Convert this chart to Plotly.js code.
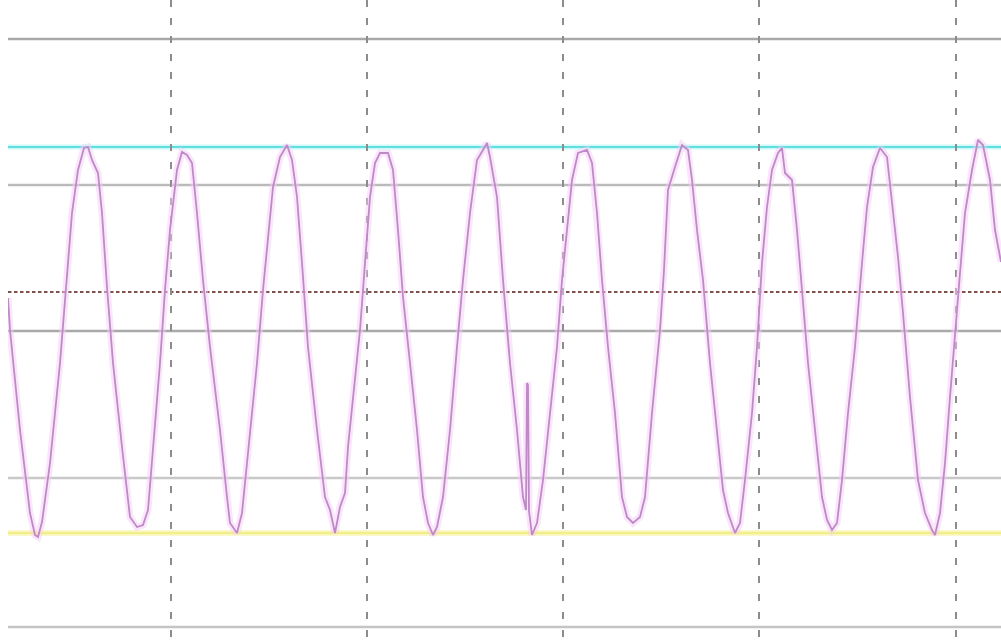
<!DOCTYPE html>
<html>
<head>
<meta charset="utf-8">
<script src="https://cdn.plot.ly/plotly-3.0.1.min.js"></script>
<style>
  html, body { margin: 0; padding: 0; background: #ffffff; }
  #chart { width: 1001px; height: 641px; }
</style>
</head>
<body>
<div id="chart"></div>
<script>
// Sample index (time) of the trace
const timeSamples = [
  8, 10, 20, 30, 35, 38, 42, 50, 60, 67, 72, 78, 84, 88, 92, 98, 102, 107, 113, 122,
  130, 137, 143, 148, 153, 160, 165, 170, 177, 182, 187, 192, 197, 203, 210, 220,
  227, 230, 237, 242, 247, 257, 263, 267, 273, 280, 287, 292, 297, 302, 308, 317,
  325, 330, 335, 340, 345, 348, 355, 360, 365, 370, 375, 380, 388, 393, 398, 403,
  410, 417, 423, 428, 433, 437, 443, 450, 457, 463, 470, 477, 483, 487, 490, 497,
  503, 510, 517, 523, 526, 527, 528, 529, 532, 537, 543, 550, 557, 562, 567, 572,
  578, 587, 592, 597, 602, 608, 615, 622, 627, 633, 640, 645, 652, 660, 664, 668,
  675, 682, 688, 692, 697, 703, 710, 717, 723, 728, 735, 740, 745, 752, 757, 762,
  767, 772, 778, 782, 785, 792, 797, 802, 808, 815, 822, 827, 832, 837, 842, 848,
  855, 862, 867, 873, 880, 887, 893, 898, 903, 910, 918, 925, 932, 935, 940, 945,
  950, 955, 960, 965, 972, 978, 983, 990, 995, 1001
];
// Signal level of the trace
const signalValues = [
  343, 311, 211, 128, 106, 104, 119, 178, 278, 371, 428, 471, 493, 494, 481, 468, 428, 354, 278, 194,
  124, 114, 116, 131, 194, 278, 351, 411, 471, 489, 486, 478, 428, 361, 294, 211,
  144, 118, 108, 128, 178, 278, 351, 394, 454, 484, 496, 481, 444, 378, 294, 211,
  144, 131, 108, 134, 148, 194, 261, 311, 378, 444, 478, 488, 488, 471, 411, 344,
  278, 211, 144, 118, 106, 114, 144, 211, 294, 361, 428, 481, 491, 498, 484, 444,
  361, 278, 211, 144, 131, 258, 256, 130, 106, 118, 161, 228, 294, 361, 411, 461,
  488, 491, 478, 428, 361, 294, 228, 144, 124, 118, 124, 144, 228, 311, 371, 451,
  474, 496, 491, 461, 411, 361, 278, 211, 151, 128, 108, 118, 161, 228, 294, 378,
  434, 471, 488, 493, 468, 461, 411, 351, 278, 211, 144, 121, 111, 118, 161, 228,
  294, 378, 434, 474, 493, 484, 428, 384, 328, 244, 161, 128, 111, 106, 128, 178,
  244, 311, 368, 428, 471, 501, 496, 461, 411, 379
];

// Horizontal graticule levels and vertical division marks
const gratLevels = [14, 163, 310, 456, 602];
const divisionTicks = [171, 367, 563, 759, 956];

// Cursor / reference levels
const upperCursor = 494;
const lowerCursor = 108;
const referenceLevel = 349;

const gratColors = ['#c4c4c4', '#c8c8c8', '#a9a9a9', '#bababa', '#a8a8a8'];

const shapes = [];
gratLevels.forEach((v, i) => {
  shapes.push({type: 'line', xref: 'paper', x0: 0, x1: 1, yref: 'y', y0: v, y1: v,
    line: {color: gratColors[i], width: 2.5}, layer: 'below'});
});
// cyan cursor with halo
shapes.push({type: 'line', xref: 'paper', x0: 0, x1: 1, yref: 'y', y0: upperCursor, y1: upperCursor,
  line: {color: 'rgba(170,245,245,0.6)', width: 5}, layer: 'below'});
shapes.push({type: 'line', xref: 'paper', x0: 0, x1: 1, yref: 'y', y0: upperCursor, y1: upperCursor,
  line: {color: '#62dede', width: 2}, layer: 'below'});
// yellow cursor
shapes.push({type: 'line', xref: 'paper', x0: 0, x1: 1, yref: 'y', y0: lowerCursor, y1: lowerCursor,
  line: {color: 'rgba(250,248,190,0.8)', width: 6}, layer: 'below'});
shapes.push({type: 'line', xref: 'paper', x0: 0, x1: 1, yref: 'y', y0: lowerCursor, y1: lowerCursor,
  line: {color: '#f2ee8a', width: 2.5}, layer: 'below'});
// reference dotted line
shapes.push({type: 'line', xref: 'paper', x0: 0, x1: 1, yref: 'y', y0: referenceLevel, y1: referenceLevel,
  line: {color: '#d9a0a0', width: 2, dash: '4px,2px'}, layer: 'below'});
shapes.push({type: 'line', xref: 'paper', x0: 0, x1: 1, yref: 'y', y0: referenceLevel, y1: referenceLevel,
  line: {color: '#5a3a30', width: 1.5, dash: '3px,3px'}, layer: 'below'});

const traces = [
  {x: timeSamples, y: signalValues, type: 'scatter', mode: 'lines',
   line: {color: 'rgba(246,205,246,0.5)', width: 7}, hoverinfo: 'skip', showlegend: false},
  {x: timeSamples, y: signalValues, type: 'scatter', mode: 'lines',
   line: {color: '#c088c8', width: 1.8}, showlegend: false}
];

const layout = {
  width: 1001, height: 641,
  margin: {l: 8, r: 0, t: 0, b: 0, pad: 0},
  paper_bgcolor: '#ffffff', plot_bgcolor: '#ffffff',
  showlegend: false,
  xaxis: {range: [8, 1001], tickvals: divisionTicks, showticklabels: false, ticks: '',
    showgrid: true, gridcolor: '#8c8c8c', gridwidth: 1.6, griddash: '7px,11px',
    zeroline: false, showline: false, fixedrange: true},
  yaxis: {range: [0, 641], showgrid: false, showticklabels: false, ticks: '',
    zeroline: false, showline: false, fixedrange: true},
  shapes: shapes
};

Plotly.newPlot('chart', traces, layout, {displayModeBar: false, staticPlot: true});
</script>
</body>
</html>
